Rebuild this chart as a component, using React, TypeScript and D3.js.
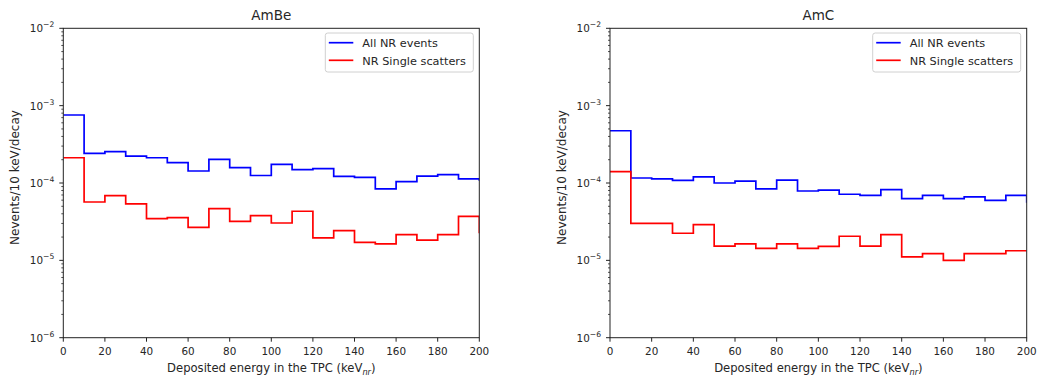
import React from "react";
import * as d3 from "d3";

const binEdges = [0, 10, 20, 30, 40, 50, 60, 70, 80, 90, 100, 110, 120, 130, 140, 150, 160, 170, 180, 190, 200];

// AmBe
const ambeAll = [7.57e-4, 2.42e-4, 2.54e-4, 2.23e-4, 2.12e-4, 1.83e-4, 1.43e-4, 2.02e-4, 1.58e-4, 1.25e-4, 1.74e-4, 1.49e-4, 1.53e-4, 1.22e-4, 1.18e-4, 8.4e-5, 1.04e-4, 1.23e-4, 1.28e-4, 1.13e-4, 1.07e-4];
const ambeSingle = [2.12e-4, 5.68e-5, 6.85e-5, 5.36e-5, 3.46e-5, 3.56e-5, 2.67e-5, 4.66e-5, 3.2e-5, 3.78e-5, 3.04e-5, 4.31e-5, 1.95e-5, 2.42e-5, 1.71e-5, 1.63e-5, 2.15e-5, 1.83e-5, 2.15e-5, 3.71e-5, 2.24e-5];

// AmC
const amcAll = [4.74e-4, 1.16e-4, 1.13e-4, 1.08e-4, 1.2e-4, 1.0e-4, 1.06e-4, 8.4e-5, 1.09e-4, 7.88e-5, 8.1e-5, 7.15e-5, 6.93e-5, 8.2e-5, 6.27e-5, 6.93e-5, 6.27e-5, 6.6e-5, 5.97e-5, 6.93e-5, 5.56e-5];
const amcSingle = [1.4e-4, 3.01e-5, 3.01e-5, 2.24e-5, 2.89e-5, 1.53e-5, 1.63e-5, 1.43e-5, 1.63e-5, 1.43e-5, 1.52e-5, 2.05e-5, 1.53e-5, 2.15e-5, 1.11e-5, 1.22e-5, 1.0e-5, 1.22e-5, 1.22e-5, 1.33e-5, 1.33e-5];

const xTicks = [0, 20, 40, 60, 80, 100, 120, 140, 160, 180, 200];
const yExponents = [-6, -5, -4, -3, -2];
const seriesNames = ["All NR events", "NR Single scatters"];
const seriesColors = ["#0000ff", "#ff0000"];

const FONT = "DejaVu Sans, sans-serif";
const TEXT = "#262626";

type PanelProps = {
  left: number;
  right: number;
  title: string;
  all: number[];
  single: number[];
};

function Panel({ left, right, title, all, single }: PanelProps) {
  const top = 28.3;
  const bottom = 337.7;
  const x = d3.scaleLinear().domain([0, 200]).range([left, right]);
  const y = d3.scaleLog().domain([1e-6, 1e-2]).range([bottom, top]);
  const line = d3
    .line<[number, number]>()
    .x((d) => x(d[0]))
    .y((d) => y(d[1]))
    .curve(d3.curveStepAfter);
  const pts = (vals: number[]) => vals.map((v, i) => [binEdges[i], v] as [number, number]);

  const minor: number[] = [];
  for (let e = -6; e < -2; e++) {
    for (let m = 2; m <= 9; m++) minor.push(m * Math.pow(10, e));
  }
  const clipId = "clip-" + title;
  const lx = right - 154;
  const ly = 33;
  return (
    <g>
      <defs>
        <clipPath id={clipId}>
          <rect x={left} y={top} width={right - left} height={bottom - top} />
        </clipPath>
      </defs>
      <g clipPath={`url(#${clipId})`}>
        {[all, single].map((vals, k) => (
          <path key={k} d={line(pts(vals)) || ""} fill="none" stroke={seriesColors[k]} strokeWidth={1.7} />
        ))}
      </g>
      <rect x={left} y={top} width={right - left} height={bottom - top} fill="none" stroke="#222" strokeWidth={1} />
      {xTicks.map((t) => (
        <g key={t}>
          <line x1={x(t)} x2={x(t)} y1={bottom} y2={bottom + 4} stroke="#222" />
          <text x={x(t)} y={bottom + 17} textAnchor="middle" fontSize={10.4} fontFamily={FONT} fill={TEXT}>
            {t}
          </text>
        </g>
      ))}
      {yExponents.map((e) => (
        <g key={e}>
          <line x1={left - 4} x2={left} y1={y(Math.pow(10, e))} y2={y(Math.pow(10, e))} stroke="#222" />
          <text x={left - 9} y={y(Math.pow(10, e)) + 4} textAnchor="end" fontSize={10.4} fontFamily={FONT} fill={TEXT}>
            10
            <tspan dy={-5} fontSize={7.6}>
              {"\u2212" + Math.abs(e)}
            </tspan>
          </text>
        </g>
      ))}
      {minor.map((m, i) => (
        <line key={i} x1={left - 2} x2={left} y1={y(m)} y2={y(m)} stroke="#222" strokeWidth={0.8} />
      ))}
      <text x={(left + right) / 2} y={20} textAnchor="middle" fontSize={13.5} fontFamily={FONT} fill={TEXT}>
        {title}
      </text>
      <text x={(left + right) / 2} y={372} textAnchor="middle" fontSize={11.6} fontFamily={FONT} fill={TEXT}>
        Deposited energy in the TPC (keV
        <tspan dy={3} fontSize={8.2} fontStyle="italic">nr</tspan>
        <tspan dy={-3}>)</tspan>
      </text>
      <text
        transform={`translate(${left - 44},${177.5}) rotate(-90)`}
        textAnchor="middle"
        fontSize={12}
        fontFamily={FONT}
        fill={TEXT}
      >
        Nevents/10 keV/decay
      </text>
      <rect x={lx} y={ly} width={148} height={39} rx={2.5} fill="white" fillOpacity={0.8} stroke="#d0d0d0" strokeWidth={1} />
      {seriesNames.map((n, k) => (
        <g key={n}>
          <line x1={lx + 3.5} x2={lx + 28} y1={ly + 9.7 + k * 17.6} y2={ly + 9.7 + k * 17.6} stroke={seriesColors[k]} strokeWidth={1.7} />
          <text x={lx + 37} y={ly + 13.9 + k * 17.6} fontSize={11.3} fontFamily={FONT} fill={TEXT}>
            {n}
          </text>
        </g>
      ))}
    </g>
  );
}

export default function App() {
  return (
    <svg width={1040} height={381} style={{ position: "absolute", left: 0, top: 0, background: "white" }}>
      <rect x={0} y={0} width={1040} height={381} fill="white" />
      <Panel left={63.3} right={479.3} title="AmBe" all={ambeAll} single={ambeSingle} />
      <Panel left={610} right={1026.7} title="AmC" all={amcAll} single={amcSingle} />
    </svg>
  );
}
